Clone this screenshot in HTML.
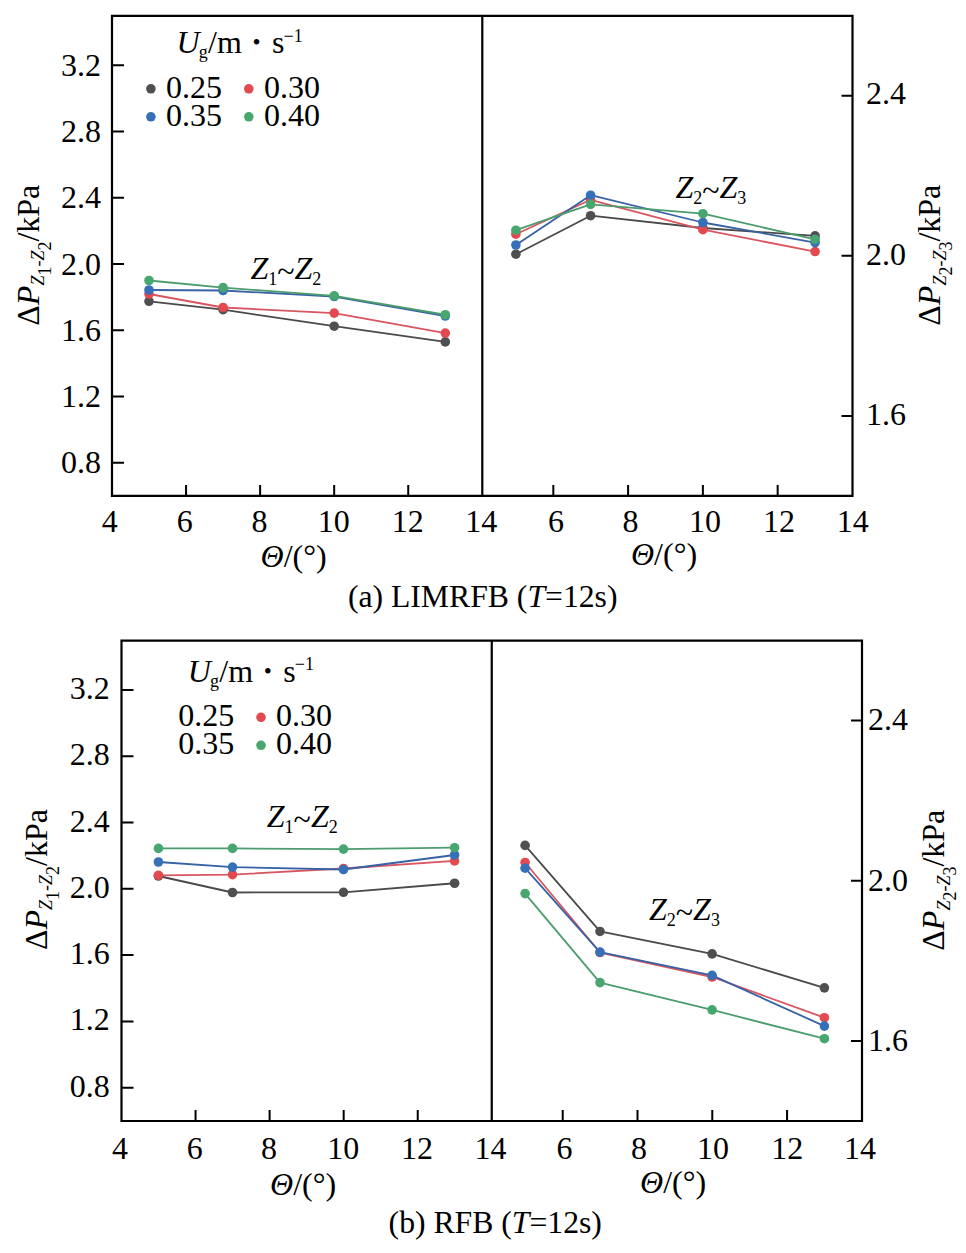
<!DOCTYPE html>
<html><head><meta charset="utf-8"><title>Pressure drop vs angle</title><style>html,body{margin:0;padding:0;background:#fff;}svg{display:block;}text{font-family:"Liberation Serif","Times New Roman",serif;fill:#000;}</style></head><body>
<svg width="966" height="1253" viewBox="0 0 966 1253" font-size="32">
<rect width="966" height="1253" fill="#fff"/>
<path d="M112 15.9H852.5V495.9H112Z M482.3 15.9V495.9" stroke="#000" stroke-width="2.2" fill="none" stroke-linejoin="miter"/>
<path d="M112 65.3L124 65.3M112 131.54L124 131.54M112 197.78L124 197.78M112 264.02L124 264.02M112 330.26L124 330.26M112 396.5L124 396.5M112 462.74L124 462.74M841.5 95.7L852.5 95.7M841.5 255.86L852.5 255.86M841.5 416.02L852.5 416.02M186.06 484.9L186.06 495.9M553.32 484.9L553.32 495.9M260.12 484.9L260.12 495.9M628.1 484.9L628.1 495.9M334.18 484.9L334.18 495.9M702.88 484.9L702.88 495.9M408.24 484.9L408.24 495.9M777.66 484.9L777.66 495.9" stroke="#000" stroke-width="2" fill="none"/>
<polyline points="149,301.3 223.1,309.7 334.2,326.2 445.3,341.9" fill="none" stroke="#4a4a4c" stroke-width="1.8" stroke-linejoin="round"/>
<circle cx="149" cy="301.3" r="4.8" fill="#4f4f51"/>
<circle cx="223.1" cy="309.7" r="4.8" fill="#4f4f51"/>
<circle cx="334.2" cy="326.2" r="4.8" fill="#4f4f51"/>
<circle cx="445.3" cy="341.9" r="4.8" fill="#4f4f51"/>
<polyline points="515.9,254.2 590.6,215.7 702.9,228 815.1,235.9" fill="none" stroke="#4a4a4c" stroke-width="1.8" stroke-linejoin="round"/>
<circle cx="515.9" cy="254.2" r="4.8" fill="#4f4f51"/>
<circle cx="590.6" cy="215.7" r="4.8" fill="#4f4f51"/>
<circle cx="702.9" cy="228" r="4.8" fill="#4f4f51"/>
<circle cx="815.1" cy="235.9" r="4.8" fill="#4f4f51"/>
<polyline points="149,294 223.1,307.5 334.2,313.1 445.3,333.1" fill="none" stroke="#d85660" stroke-width="1.8" stroke-linejoin="round"/>
<circle cx="149" cy="294" r="4.8" fill="#e34a50"/>
<circle cx="223.1" cy="307.5" r="4.8" fill="#e34a50"/>
<circle cx="334.2" cy="313.1" r="4.8" fill="#e34a50"/>
<circle cx="445.3" cy="333.1" r="4.8" fill="#e34a50"/>
<polyline points="515.9,234.2 590.6,199.8 702.9,229.7 815.1,251.55" fill="none" stroke="#d85660" stroke-width="1.8" stroke-linejoin="round"/>
<circle cx="515.9" cy="234.2" r="4.8" fill="#e34a50"/>
<circle cx="590.6" cy="199.8" r="4.8" fill="#e34a50"/>
<circle cx="702.9" cy="229.7" r="4.8" fill="#e34a50"/>
<circle cx="815.1" cy="251.55" r="4.8" fill="#e34a50"/>
<polyline points="149,290 223.1,290.5 334.2,296.5 445.3,316" fill="none" stroke="#3762a4" stroke-width="1.8" stroke-linejoin="round"/>
<circle cx="149" cy="290" r="4.8" fill="#3670b8"/>
<circle cx="223.1" cy="290.5" r="4.8" fill="#3670b8"/>
<circle cx="334.2" cy="296.5" r="4.8" fill="#3670b8"/>
<circle cx="445.3" cy="316" r="4.8" fill="#3670b8"/>
<polyline points="515.9,245 590.6,195.2 702.9,222.5 815.1,242.6" fill="none" stroke="#3762a4" stroke-width="1.8" stroke-linejoin="round"/>
<circle cx="515.9" cy="245" r="4.8" fill="#3670b8"/>
<circle cx="590.6" cy="195.2" r="4.8" fill="#3670b8"/>
<circle cx="702.9" cy="222.5" r="4.8" fill="#3670b8"/>
<circle cx="815.1" cy="242.6" r="4.8" fill="#3670b8"/>
<polyline points="149,280.5 223.1,287.6 334.2,295.8 445.3,314.75" fill="none" stroke="#4c9c6e" stroke-width="1.8" stroke-linejoin="round"/>
<circle cx="149" cy="280.5" r="4.8" fill="#48a66f"/>
<circle cx="223.1" cy="287.6" r="4.8" fill="#48a66f"/>
<circle cx="334.2" cy="295.8" r="4.8" fill="#48a66f"/>
<circle cx="445.3" cy="314.75" r="4.8" fill="#48a66f"/>
<polyline points="515.9,230.2 590.6,204.4 702.9,213.7 815.1,239.4" fill="none" stroke="#4c9c6e" stroke-width="1.8" stroke-linejoin="round"/>
<circle cx="515.9" cy="230.2" r="4.8" fill="#48a66f"/>
<circle cx="590.6" cy="204.4" r="4.8" fill="#48a66f"/>
<circle cx="702.9" cy="213.7" r="4.8" fill="#48a66f"/>
<circle cx="815.1" cy="239.4" r="4.8" fill="#48a66f"/>
<text x="101.1" y="75.9" text-anchor="end">3.2</text>
<text x="101.1" y="142.14" text-anchor="end">2.8</text>
<text x="101.1" y="208.38" text-anchor="end">2.4</text>
<text x="101.1" y="274.62" text-anchor="end">2.0</text>
<text x="101.1" y="340.86" text-anchor="end">1.6</text>
<text x="101.1" y="407.1" text-anchor="end">1.2</text>
<text x="101.1" y="473.34" text-anchor="end">0.8</text>
<text x="866" y="104.45">2.4</text>
<text x="866" y="264.61">2.0</text>
<text x="866" y="424.77">1.6</text>
<text x="101.7" y="532.3">4</text>
<text x="176.7" y="532.3">6</text>
<text x="251.5" y="532.3">8</text>
<text x="317.8" y="532.3">10</text>
<text x="391.8" y="532.3">12</text>
<text x="465.3" y="532.3">14</text>
<text x="548" y="532.3">6</text>
<text x="622.4" y="532.3">8</text>
<text x="689" y="532.3">10</text>
<text x="763" y="532.3">12</text>
<text x="836.75" y="532.3">14</text>
<text x="260.6" y="567.3"><tspan font-style="italic">Θ</tspan>/(°)</text>
<text x="631" y="565"><tspan font-style="italic">Θ</tspan>/(°)</text>
<text x="482.7" y="607.3" font-size="31.7" text-anchor="middle">(a) LIMRFB (<tspan font-style="italic">T</tspan>=12s)</text>
<text x="176.4" y="53.3"><tspan font-style="italic">U</tspan><tspan x="198.7" dy="4.8" font-size="18">g</tspan><tspan x="208" dy="-4.8">/m</tspan><tspan x="252.5" dy="-3" font-size="23">•</tspan><tspan x="271.9" dy="3">s</tspan><tspan x="283.5" dy="-11.6" font-size="18">−1</tspan></text>
<circle cx="150.9" cy="88.8" r="4.8" fill="#4f4f51"/>
<text x="166" y="97.5">0.25</text>
<circle cx="248.8" cy="88.8" r="4.8" fill="#e34a50"/>
<text x="263.9" y="97.5">0.30</text>
<circle cx="150.9" cy="116.8" r="4.8" fill="#3670b8"/>
<text x="166" y="125.5">0.35</text>
<circle cx="248.8" cy="116.8" r="4.8" fill="#48a66f"/>
<text x="263.9" y="125.5">0.40</text>
<text x="250.4" y="278.5"><tspan font-style="italic">Z</tspan><tspan font-size="18" dy="6">1</tspan><tspan dy="-3">~</tspan><tspan font-style="italic" dy="-3">Z</tspan><tspan font-size="18" dy="6">2</tspan></text>
<text x="675.4" y="197.8"><tspan font-style="italic">Z</tspan><tspan font-size="18" dy="6">2</tspan><tspan dy="-3">~</tspan><tspan font-style="italic" dy="-3">Z</tspan><tspan font-size="18" dy="6">3</tspan></text>
<text transform="translate(38.5,255.2) rotate(-90)" text-anchor="middle">Δ<tspan font-style="italic">P</tspan><tspan font-size="18" dy="5.5" font-style="italic">Z</tspan><tspan font-size="18" dy="6.5">1</tspan><tspan font-size="18" dy="-6.5">-</tspan><tspan font-size="18" font-style="italic">Z</tspan><tspan font-size="18" dy="6.5">2</tspan><tspan dy="-12">/kPa</tspan></text>
<text transform="translate(940.2,255.2) rotate(-90)" text-anchor="middle">Δ<tspan font-style="italic">P</tspan><tspan font-size="18" dy="5.5" font-style="italic">Z</tspan><tspan font-size="18" dy="6.5">2</tspan><tspan font-size="18" dy="-6.5">-</tspan><tspan font-size="18" font-style="italic">Z</tspan><tspan font-size="18" dy="6.5">3</tspan><tspan dy="-12">/kPa</tspan></text>
<path d="M121.5 640.6H862V1121H121.5Z M491.75 640.6V1121" stroke="#000" stroke-width="2.2" fill="none" stroke-linejoin="miter"/>
<path d="M121.5 690L133.5 690M121.5 756.28L133.5 756.28M121.5 822.56L133.5 822.56M121.5 888.84L133.5 888.84M121.5 955.12L133.5 955.12M121.5 1021.4L133.5 1021.4M121.5 1087.68L133.5 1087.68M851 720.4L862 720.4M851 880.64L862 880.64M851 1040.88L862 1040.88M195.56 1110L195.56 1121M562.72 1110L562.72 1121M269.62 1110L269.62 1121M637.5 1110L637.5 1121M343.68 1110L343.68 1121M712.28 1110L712.28 1121M417.74 1110L417.74 1121M787.06 1110L787.06 1121" stroke="#000" stroke-width="2" fill="none"/>
<polyline points="158.4,876 232.5,892.5 343.5,892.3 454.6,883.25" fill="none" stroke="#4a4a4c" stroke-width="1.8" stroke-linejoin="round"/>
<circle cx="158.4" cy="876" r="4.8" fill="#4f4f51"/>
<circle cx="232.5" cy="892.5" r="4.8" fill="#4f4f51"/>
<circle cx="343.5" cy="892.3" r="4.8" fill="#4f4f51"/>
<circle cx="454.6" cy="883.25" r="4.8" fill="#4f4f51"/>
<polyline points="525.1,845.4 600,931.45 712.1,953.9 824.4,987.85" fill="none" stroke="#4a4a4c" stroke-width="1.8" stroke-linejoin="round"/>
<circle cx="525.1" cy="845.4" r="4.8" fill="#4f4f51"/>
<circle cx="600" cy="931.45" r="4.8" fill="#4f4f51"/>
<circle cx="712.1" cy="953.9" r="4.8" fill="#4f4f51"/>
<circle cx="824.4" cy="987.85" r="4.8" fill="#4f4f51"/>
<polyline points="158.4,875.3 232.5,874.6 343.5,868.5 454.6,860.9" fill="none" stroke="#d85660" stroke-width="1.8" stroke-linejoin="round"/>
<circle cx="158.4" cy="875.3" r="4.8" fill="#e34a50"/>
<circle cx="232.5" cy="874.6" r="4.8" fill="#e34a50"/>
<circle cx="343.5" cy="868.5" r="4.8" fill="#e34a50"/>
<circle cx="454.6" cy="860.9" r="4.8" fill="#e34a50"/>
<polyline points="525.1,862.5 600,952.5 712.1,977 824.4,1017.7" fill="none" stroke="#d85660" stroke-width="1.8" stroke-linejoin="round"/>
<circle cx="525.1" cy="862.5" r="4.8" fill="#e34a50"/>
<circle cx="600" cy="952.5" r="4.8" fill="#e34a50"/>
<circle cx="712.1" cy="977" r="4.8" fill="#e34a50"/>
<circle cx="824.4" cy="1017.7" r="4.8" fill="#e34a50"/>
<polyline points="158.4,862 232.5,867.1 343.5,869.5 454.6,855" fill="none" stroke="#3762a4" stroke-width="1.8" stroke-linejoin="round"/>
<circle cx="158.4" cy="862" r="4.8" fill="#3670b8"/>
<circle cx="232.5" cy="867.1" r="4.8" fill="#3670b8"/>
<circle cx="343.5" cy="869.5" r="4.8" fill="#3670b8"/>
<circle cx="454.6" cy="855" r="4.8" fill="#3670b8"/>
<polyline points="525.1,868.2 600,952.1 712.1,975.4 824.4,1026.1" fill="none" stroke="#3762a4" stroke-width="1.8" stroke-linejoin="round"/>
<circle cx="525.1" cy="868.2" r="4.8" fill="#3670b8"/>
<circle cx="600" cy="952.1" r="4.8" fill="#3670b8"/>
<circle cx="712.1" cy="975.4" r="4.8" fill="#3670b8"/>
<circle cx="824.4" cy="1026.1" r="4.8" fill="#3670b8"/>
<polyline points="158.4,848.4 232.5,848.4 343.5,849.1 454.6,847.7" fill="none" stroke="#4c9c6e" stroke-width="1.8" stroke-linejoin="round"/>
<circle cx="158.4" cy="848.4" r="4.8" fill="#48a66f"/>
<circle cx="232.5" cy="848.4" r="4.8" fill="#48a66f"/>
<circle cx="343.5" cy="849.1" r="4.8" fill="#48a66f"/>
<circle cx="454.6" cy="847.7" r="4.8" fill="#48a66f"/>
<polyline points="525.1,893.6 600,982.6 712.1,1009.9 824.4,1038.7" fill="none" stroke="#4c9c6e" stroke-width="1.8" stroke-linejoin="round"/>
<circle cx="525.1" cy="893.6" r="4.8" fill="#48a66f"/>
<circle cx="600" cy="982.6" r="4.8" fill="#48a66f"/>
<circle cx="712.1" cy="1009.9" r="4.8" fill="#48a66f"/>
<circle cx="824.4" cy="1038.7" r="4.8" fill="#48a66f"/>
<text x="109.75" y="698.95" text-anchor="end">3.2</text>
<text x="109.75" y="765.23" text-anchor="end">2.8</text>
<text x="109.75" y="831.51" text-anchor="end">2.4</text>
<text x="109.75" y="897.79" text-anchor="end">2.0</text>
<text x="109.75" y="964.07" text-anchor="end">1.6</text>
<text x="109.75" y="1030.35" text-anchor="end">1.2</text>
<text x="109.75" y="1096.63" text-anchor="end">0.8</text>
<text x="868" y="730.3">2.4</text>
<text x="868" y="890.54">2.0</text>
<text x="868" y="1050.78">1.6</text>
<text x="112" y="1159.3">4</text>
<text x="186.75" y="1159.3">6</text>
<text x="260.9" y="1159.3">8</text>
<text x="327.3" y="1159.3">10</text>
<text x="401" y="1159.3">12</text>
<text x="474.6" y="1159.3">14</text>
<text x="556.6" y="1159.3">6</text>
<text x="630.9" y="1159.3">8</text>
<text x="697.1" y="1159.3">10</text>
<text x="771.2" y="1159.3">12</text>
<text x="843.9" y="1159.3">14</text>
<text x="270.1" y="1195.3"><tspan font-style="italic">Θ</tspan>/(°)</text>
<text x="640.1" y="1192.5"><tspan font-style="italic">Θ</tspan>/(°)</text>
<text x="495.25" y="1233.1" font-size="31.7" text-anchor="middle">(b) RFB (<tspan font-style="italic">T</tspan>=12s)</text>
<text x="187.7" y="681.8"><tspan font-style="italic">U</tspan><tspan x="210" dy="4.8" font-size="18">g</tspan><tspan x="219.3" dy="-4.8">/m</tspan><tspan x="263.8" dy="-3" font-size="23">•</tspan><tspan x="283.2" dy="3">s</tspan><tspan x="294.8" dy="-11.6" font-size="18">−1</tspan></text>
<text x="178.2" y="726">0.25</text>
<circle cx="261" cy="717.3" r="4.8" fill="#e34a50"/>
<text x="276.1" y="726">0.30</text>
<text x="178.2" y="754">0.35</text>
<circle cx="261" cy="745.3" r="4.8" fill="#48a66f"/>
<text x="276.1" y="754">0.40</text>
<text x="266.8" y="826.9"><tspan font-style="italic">Z</tspan><tspan font-size="18" dy="6">1</tspan><tspan dy="-3">~</tspan><tspan font-style="italic" dy="-3">Z</tspan><tspan font-size="18" dy="6">2</tspan></text>
<text x="649" y="919.8"><tspan font-style="italic">Z</tspan><tspan font-size="18" dy="6">2</tspan><tspan dy="-3">~</tspan><tspan font-style="italic" dy="-3">Z</tspan><tspan font-size="18" dy="6">3</tspan></text>
<text transform="translate(46.6,879.6) rotate(-90)" text-anchor="middle">Δ<tspan font-style="italic">P</tspan><tspan font-size="18" dy="5.5" font-style="italic">Z</tspan><tspan font-size="18" dy="6.5">1</tspan><tspan font-size="18" dy="-6.5">-</tspan><tspan font-size="18" font-style="italic">Z</tspan><tspan font-size="18" dy="6.5">2</tspan><tspan dy="-12">/kPa</tspan></text>
<text transform="translate(944.3,880.2) rotate(-90)" text-anchor="middle">Δ<tspan font-style="italic">P</tspan><tspan font-size="18" dy="5.5" font-style="italic">Z</tspan><tspan font-size="18" dy="6.5">2</tspan><tspan font-size="18" dy="-6.5">-</tspan><tspan font-size="18" font-style="italic">Z</tspan><tspan font-size="18" dy="6.5">3</tspan><tspan dy="-12">/kPa</tspan></text>
</svg>
</body></html>
